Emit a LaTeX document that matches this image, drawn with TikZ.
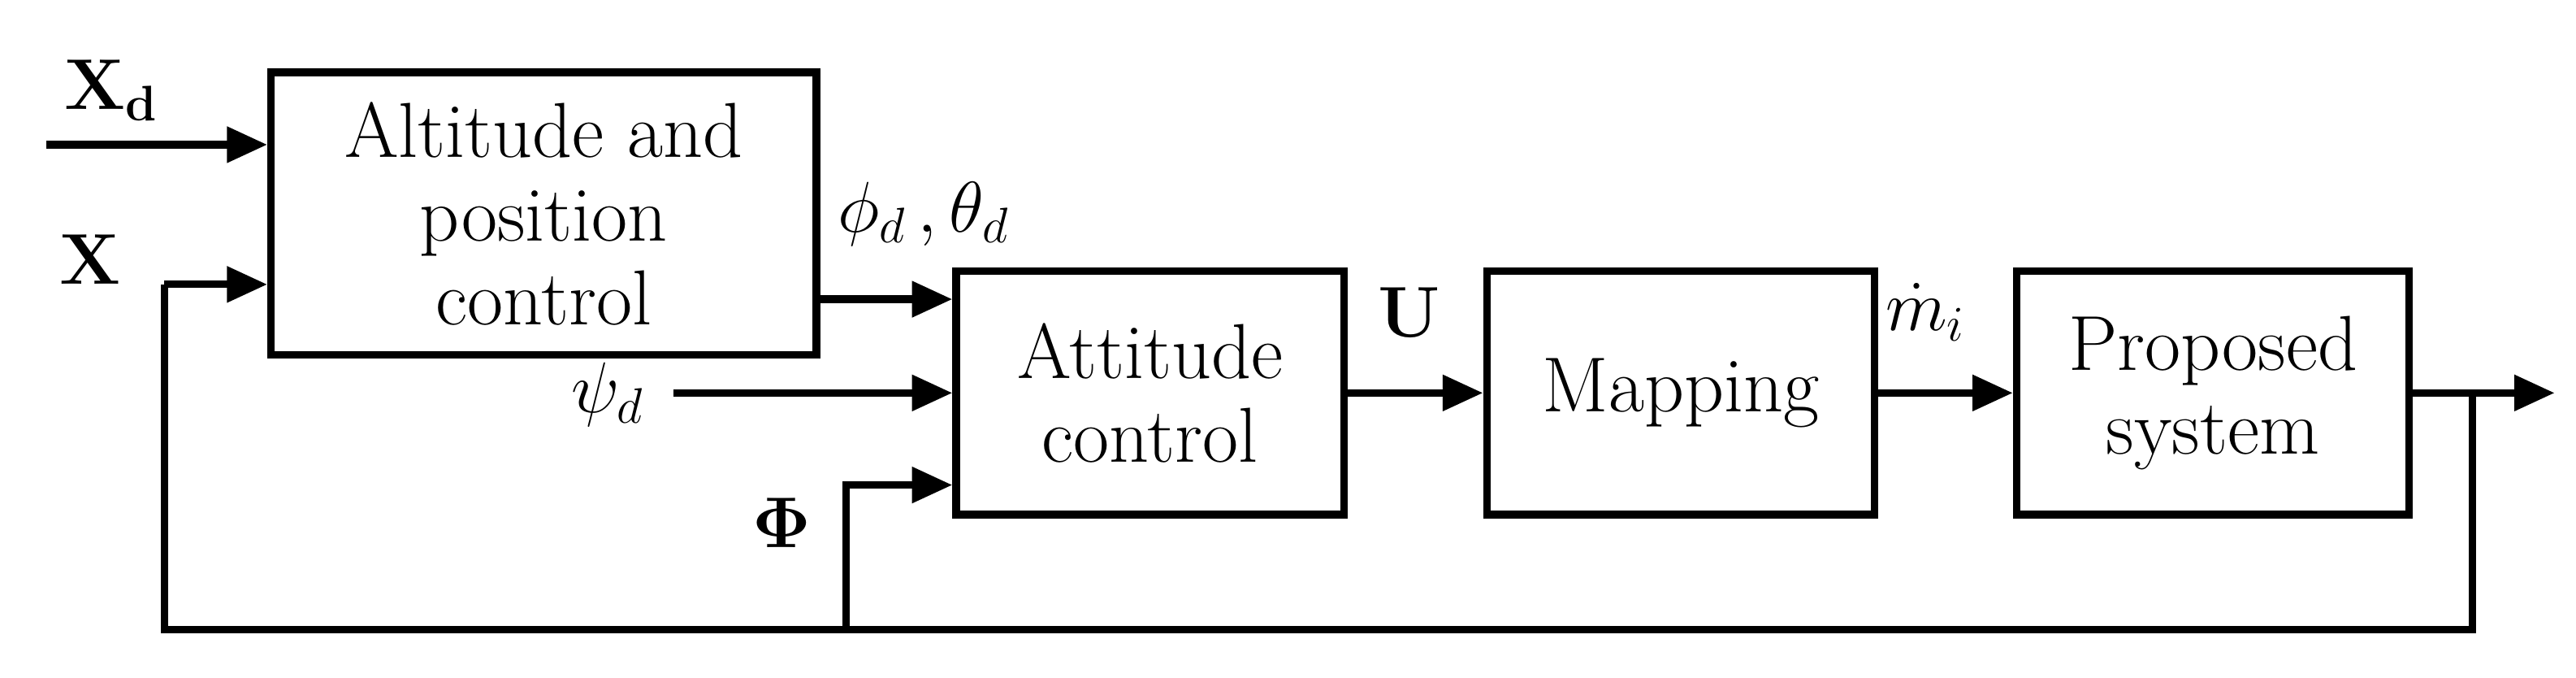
\documentclass[tikz,border=0pt]{standalone}
\usepackage{amsmath}
\usetikzlibrary{arrows.meta}
\begin{document}
\begin{tikzpicture}[x=0.02cm,y=-0.02cm,
  blk/.style={draw,line width=2.6pt,inner sep=0,font=\fontsize{27}{29}\selectfont,align=center},
  ar/.style={line width=2.6pt,-{Triangle[length=14pt,width=12pt]}},
  ln/.style={line width=2.6pt},
  lab/.style={font=\fontsize{27}{29}\selectfont}]
\useasboundingbox (0,0) rectangle (1568,412);
\node[blk,minimum width=332*0.02cm,minimum height=172*0.02cm] (b1) at (331,130) {Altitude and\\position\\control};
\node[blk,minimum width=236*0.02cm,minimum height=148*0.02cm] (b2) at (700,239) {Attitude\\control};
\node[blk,minimum width=236*0.02cm,minimum height=148*0.02cm] (b3) at (1023,239) {Mapping};
\node[blk,minimum width=239*0.02cm,minimum height=148*0.02cm] (b4) at (1347,239) {Proposed\\system};
\coordinate (xd) at (28,88);
\coordinate (psi) at (410,239);
\coordinate (fb1) at (1505,239);
\coordinate (out) at (1555,239);
\coordinate (fb2) at (1505,383);
\coordinate (fb3) at (100,383);
\coordinate (fb4) at (100,173);
\coordinate (ph1) at (515,383);
\coordinate (ph2) at (515,295);
\draw[ar] (xd) -- (b1.west|-xd);
\draw[ar] (fb4) -- (b1.west|-fb4);
\draw[ln] (b4.east) -- (fb1) -- (fb2) -- (fb3) -- (fb4);
\draw[ar] (fb1) -- (out);
\draw[ar] (b1.east|-0,182) -- (b2.west|-0,182);
\draw[ar] (psi) -- (b2.west|-psi);
\draw[ar] (ph1) -- (ph2) -- (b2.west|-ph2);
\draw[ar] (b2) -- (b3);
\draw[ar] (b3) -- (b4);
\node[lab] (lxd) at (68,55) {$\mathbf{X}_{\mathbf{d}}$};
\node[lab] (lx) at (55,158) {$\mathbf{X}$};
\node[lab] (lpt) at (562,130) {$\phi_d\,,\theta_d$};
\node[lab] (lpsi) at (370,240) {$\psi_d$};
\node[lab] (lphi) at (476,318) {$\boldsymbol{\Phi}$};
\node[lab] (lu) at (858,190) {$\mathbf{U}$};
\node[lab] (lm) at (1172,190) {$\dot{m}_i$};
\end{tikzpicture}
\end{document}
